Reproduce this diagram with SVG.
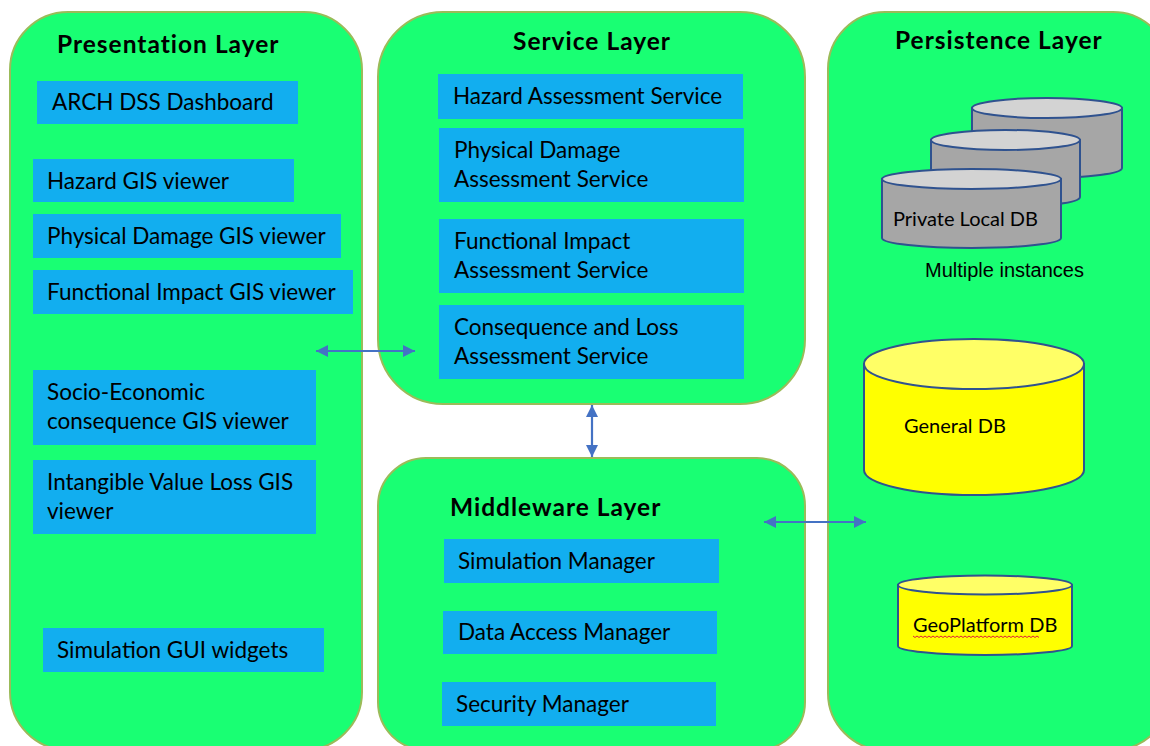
<svg xmlns="http://www.w3.org/2000/svg" width="1150" height="746" viewBox="0 0 1150 746">
  <style>
    .layer { fill: #19FF73; stroke: #9BBB59; stroke-width: 2; }
    .box { fill: #12AEEF; }
    .title { font-family: Lato, "Liberation Sans", sans-serif; font-weight: bold; font-size: 24.5px; letter-spacing: 1px; fill: #000; }
    .lbl { font-family: Lato, "Liberation Sans", sans-serif; font-size: 22.5px; fill: #000; }
    .dblbl { font-family: Lato, "Liberation Sans", sans-serif; font-size: 20px; fill: #000; }
    .note { font-family: "Liberation Sans", Arial, sans-serif; font-size: 20px; fill: #000; }
    .dbgray { fill: #A6A6A6; stroke: #2F528F; stroke-width: 2; }
    .dbgraytop { fill: #D3D3D3; stroke: #2F528F; stroke-width: 2; }
    .dbyel { fill: #FFFF00; stroke: #2F528F; stroke-width: 2; }
    .dbyeltop { fill: #FFFF66; stroke: #2F528F; stroke-width: 2; }
    .link { stroke: #4472C4; stroke-width: 2.2; fill: none; marker-start: url(#head); marker-end: url(#head); }
  </style>
  <defs>
    <marker id="head" viewBox="0 0 12 12" refX="12" refY="6" markerWidth="12" markerHeight="12" markerUnits="userSpaceOnUse" orient="auto-start-reverse">
      <path d="M0,0 L12,6 L0,12 Z" fill="#4472C4"/>
    </marker>
  </defs>

  <rect width="1150" height="746" fill="#FFFFFF"/>

  <!-- Presentation layer -->
  <g id="presentation-layer">
    <rect class="layer" x="10" y="12" width="352" height="738" rx="58" ry="58"/>
    <text class="title" x="57" y="53">Presentation Layer</text>
    <g id="arch-dss-dashboard">
      <rect class="box" x="37" y="81" width="261" height="43"/>
      <text class="lbl" x="52" y="110">ARCH DSS Dashboard</text>
    </g>
    <g id="hazard-gis-viewer">
      <rect class="box" x="33" y="159" width="261" height="43"/>
      <text class="lbl" x="47" y="189">Hazard GIS viewer</text>
    </g>
    <g id="physical-damage-gis-viewer">
      <rect class="box" x="33" y="214" width="308" height="44"/>
      <text class="lbl" x="47" y="244">Physical Damage GIS viewer</text>
    </g>
    <g id="functional-impact-gis-viewer">
      <rect class="box" x="33" y="270" width="320" height="44"/>
      <text class="lbl" x="47" y="300">Functional Impact GIS viewer</text>
    </g>
    <g id="socio-economic-gis-viewer">
      <rect class="box" x="33" y="370" width="283" height="75"/>
      <text class="lbl" x="47" y="400">Socio-Economic</text>
      <text class="lbl" x="47" y="429">consequence GIS viewer</text>
    </g>
    <g id="intangible-value-loss-gis-viewer">
      <rect class="box" x="33" y="460" width="283" height="74"/>
      <text class="lbl" x="47" y="490">Intangible Value Loss GIS</text>
      <text class="lbl" x="47" y="519">viewer</text>
    </g>
    <g id="simulation-gui-widgets">
      <rect class="box" x="43" y="628" width="281" height="44"/>
      <text class="lbl" x="57" y="658">Simulation GUI widgets</text>
    </g>
  </g>

  <!-- Service layer -->
  <g id="service-layer">
    <rect class="layer" x="378" y="12" width="427" height="392" rx="65" ry="65"/>
    <text class="title" x="513" y="50">Service Layer</text>
    <g id="hazard-assessment-service">
      <rect class="box" x="438" y="74" width="305" height="45"/>
      <text class="lbl" x="453" y="104">Hazard Assessment Service</text>
    </g>
    <g id="physical-damage-assessment-service">
      <rect class="box" x="439" y="128" width="305" height="74"/>
      <text class="lbl" x="454" y="158">Physical Damage</text>
      <text class="lbl" x="454" y="187">Assessment Service</text>
    </g>
    <g id="functional-impact-assessment-service">
      <rect class="box" x="439" y="219" width="305" height="74"/>
      <text class="lbl" x="454" y="249">Functional Impact</text>
      <text class="lbl" x="454" y="278">Assessment Service</text>
    </g>
    <g id="consequence-loss-assessment-service">
      <rect class="box" x="439" y="305" width="305" height="74"/>
      <text class="lbl" x="454" y="335">Consequence and Loss</text>
      <text class="lbl" x="454" y="364">Assessment Service</text>
    </g>
  </g>

  <!-- Middleware layer -->
  <g id="middleware-layer">
    <rect class="layer" x="378" y="458" width="427" height="292" rx="48" ry="48"/>
    <text class="title" x="450" y="516">Middleware Layer</text>
    <g id="simulation-manager">
      <rect class="box" x="444" y="539" width="275" height="44"/>
      <text class="lbl" x="458" y="569">Simulation Manager</text>
    </g>
    <g id="data-access-manager">
      <rect class="box" x="443" y="611" width="274" height="43"/>
      <text class="lbl" x="458" y="640">Data Access Manager</text>
    </g>
    <g id="security-manager">
      <rect class="box" x="442" y="682" width="274" height="44"/>
      <text class="lbl" x="456" y="712">Security Manager</text>
    </g>
  </g>

  <!-- Persistence layer -->
  <g id="persistence-layer">
    <rect class="layer" x="828" y="12" width="342" height="738" rx="57" ry="57"/>
    <text class="title" x="895" y="49">Persistence Layer</text>

    <g id="private-local-db">
      <!-- back instance -->
      <path class="dbgray" d="M972,108 L972,168 A75,10 0 0 0 1122,168 L1122,108 Z"/>
      <ellipse class="dbgraytop" cx="1047" cy="108" rx="75" ry="10"/>
      <!-- middle instance -->
      <path class="dbgray" d="M931,140 L931,197 A74.5,10 0 0 0 1080,197 L1080,140 Z"/>
      <ellipse class="dbgraytop" cx="1005.5" cy="140" rx="74.5" ry="10"/>
      <!-- front instance -->
      <path class="dbgray" d="M882,179 L882,238 A89.5,10 0 0 0 1061,238 L1061,179 Z"/>
      <ellipse class="dbgraytop" cx="971.5" cy="179" rx="89.5" ry="10"/>
      <text class="dblbl" x="893" y="226">Private Local DB</text>
      <text class="note" x="925" y="277">Multiple instances</text>
    </g>

    <g id="general-db">
      <path class="dbyel" d="M864,364 L864,470 A110,25 0 0 0 1084,470 L1084,364 Z"/>
      <ellipse class="dbyeltop" cx="974" cy="364" rx="110" ry="25"/>
      <text class="dblbl" x="904" y="433">General DB</text>
    </g>

    <g id="geoplatform-db">
      <path class="dbyel" d="M898,585 L898,646 A87,9 0 0 0 1072,646 L1072,585 Z"/>
      <ellipse class="dbyeltop" cx="985" cy="585" rx="87" ry="9.5"/>
      <text class="dblbl" x="913" y="632">GeoPlatform DB</text>
      <!-- spell-check squiggle under the product name -->
      <path d="M913,636 l2,1.5 l2,-1.5 l2,1.5 l2,-1.5 l2,1.5 l2,-1.5 l2,1.5 l2,-1.5 l2,1.5 l2,-1.5 l2,1.5 l2,-1.5 l2,1.5 l2,-1.5 l2,1.5 l2,-1.5 l2,1.5 l2,-1.5 l2,1.5 l2,-1.5 l2,1.5 l2,-1.5 l2,1.5 l2,-1.5 l2,1.5 l2,-1.5 l2,1.5 l2,-1.5 l2,1.5 l2,-1.5 l2,1.5 l2,-1.5 l2,1.5 l2,-1.5 l2,1.5 l2,-1.5 l2,1.5 l2,-1.5 l2,1.5 l2,-1.5 l2,1.5 l2,-1.5 l2,1.5 l2,-1.5 l2,1.5 l2,-1.5 l2,1.5 l2,-1.5 l2,1.5 l2,-1.5 l2,1.5 l2,-1.5 l2,1.5 l2,-1.5 l2,1.5 l2,-1.5 l2,1.5 l2,-1.5 l2,1.5 l2,-1.5 l2,1.5 l2,-1.5 l2,1.5" fill="none" stroke="#E0203A" stroke-width="1"/>
    </g>
  </g>

  <!-- Connectors -->
  <g id="connectors">
    <line class="link" x1="316" y1="351" x2="415" y2="351"/>
    <line class="link" x1="592" y1="405" x2="592" y2="457"/>
    <line class="link" x1="764" y1="522" x2="866" y2="522"/>
  </g>
</svg>
